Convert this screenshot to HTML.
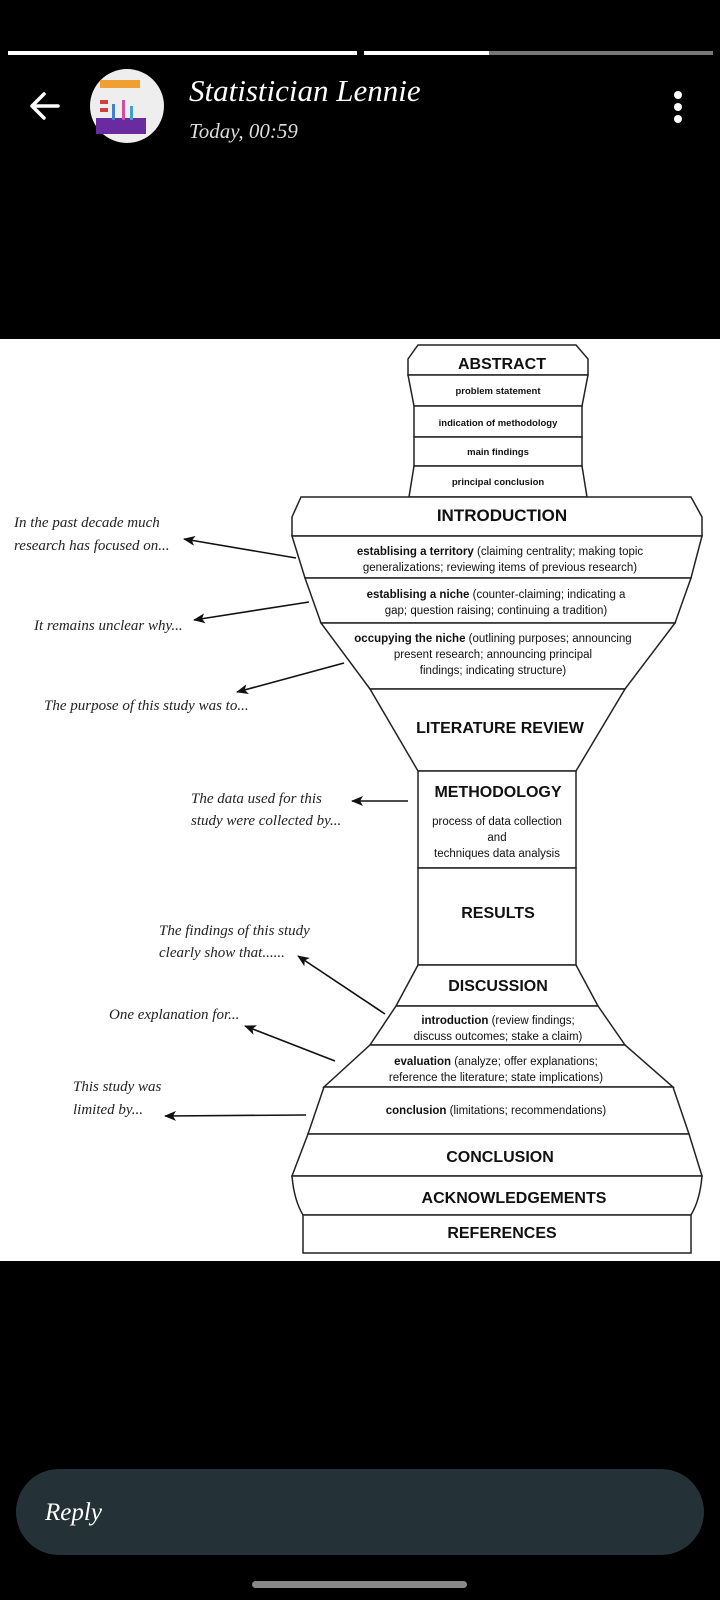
<!DOCTYPE html>
<html><head><meta charset="utf-8"><style>
html,body{margin:0;padding:0;background:#000;width:720px;height:1600px;overflow:hidden}
svg{display:block}
.h{font-family:"Liberation Sans",Arial,sans-serif;font-weight:bold;fill:#111;text-anchor:middle}
.t{font-family:"Liberation Sans",Arial,sans-serif;fill:#111;text-anchor:middle;font-size:11.5px}
.s{font-family:"Liberation Sans",Arial,sans-serif;fill:#111;text-anchor:middle;font-size:9.5px;font-weight:bold}
.i{font-family:"Liberation Serif",serif;font-style:italic;fill:#222;font-size:15px}
</style></head><body>
<svg width="720" height="1600" viewBox="0 0 720 1600" xmlns="http://www.w3.org/2000/svg">
<defs><marker id="a" markerWidth="12" markerHeight="10" refX="11" refY="5" orient="auto" markerUnits="userSpaceOnUse"><path d="M0,0 L12,5 L0,10 L3,5 Z" fill="#111"/></marker></defs>
<rect width="720" height="1600" fill="#000"/>
<!-- header -->
<rect x="8" y="51" width="349" height="4" fill="#fff"/>
<rect x="364" y="51" width="125" height="4" fill="#fff"/>
<rect x="489" y="51" width="224" height="4" fill="#777"/>
<path d="M58,106 H32 M44,94 L32,106 L44,118" stroke="#fff" stroke-width="3.5" fill="none" stroke-linecap="round" stroke-linejoin="round"/>
<circle cx="127" cy="106" r="37" fill="#eee"/>
<rect x="100" y="80" width="40" height="8" fill="#f0a030"/>
<rect x="96" y="118" width="50" height="16" fill="#6a2aa0"/>
<rect x="100" y="100" width="8" height="4" fill="#d04040"/><rect x="100" y="108" width="8" height="4" fill="#d04040"/>
<rect x="112" y="104" width="3" height="16" fill="#4080d0"/><rect x="122" y="100" width="3" height="20" fill="#d050a0"/><rect x="130" y="106" width="3" height="14" fill="#40a0d0"/>
<text x="189" y="101" fill="#fff" font-family="'Liberation Serif',serif" font-style="italic" font-size="31">Statistician Lennie</text>
<text x="189" y="138" fill="#ddd" font-family="'Liberation Serif',serif" font-style="italic" font-size="21">Today, 00:59</text>
<circle cx="678" cy="95" r="4" fill="#fff"/><circle cx="678" cy="107" r="4" fill="#fff"/><circle cx="678" cy="119" r="4" fill="#fff"/>
<!-- white panel -->
<rect x="0" y="339" width="720" height="922" fill="#fff"/>
<g stroke="#222" stroke-width="1.5" fill="#fff">
<!-- abstract -->
<path d="M418,345 H576 L588,359 V375 H408 V359 Z"/>
<path d="M408,375 H588 L582,406 H414 Z"/>
<rect x="414" y="406" width="168" height="31"/>
<rect x="414" y="437" width="168" height="29"/>
<path d="M414,466 H582 L587,497 H409 Z"/>
<!-- intro -->
<path d="M301,497 H691 L702,517 V536 H292 V517 Z"/>
<path d="M292,536 H702 L691,578 H305 Z"/>
<path d="M305,578 H691 L675,623 H321 Z"/>
<path d="M321,623 H675 L625,689 H370 Z"/>
<path d="M370,689 H625 L576,771 H418 Z"/>
<rect x="418" y="771" width="158" height="97"/>
<rect x="418" y="868" width="158" height="97"/>
<path d="M418,965 H576 L598,1006 H396 Z"/>
<path d="M396,1006 H598 L625,1045 H370 Z"/>
<path d="M370,1045 H625 L673,1087 H324 Z"/>
<path d="M324,1087 H673 L689,1134 H308 Z"/>
<path d="M308,1134 H689 L702,1176 H292 Z"/>
<path d="M292,1176 H702 Q700,1200 691,1215 H303 Q294,1200 292,1176 Z"/>
<rect x="303" y="1215" width="388" height="38"/>
</g>
<g>
<text class="h" x="502" y="369" font-size="16">ABSTRACT</text>
<text class="s" x="498" y="394">problem statement</text>
<text class="s" x="498" y="426">indication of methodology</text>
<text class="s" x="498" y="455">main findings</text>
<text class="s" x="498" y="485">principal conclusion</text>
<text class="h" x="502" y="521" font-size="17">INTRODUCTION</text>
<text class="t" x="500" y="555"><tspan font-weight="bold">establising a territory</tspan> (claiming centrality; making topic</text>
<text class="t" x="500" y="571">generalizations; reviewing items of previous research)</text>
<text class="t" x="496" y="598"><tspan font-weight="bold">establising a niche</tspan> (counter-claiming; indicating a</text>
<text class="t" x="496" y="614">gap; question raising; continuing a tradition)</text>
<text class="t" x="493" y="642"><tspan font-weight="bold">occupying the niche</tspan> (outlining purposes; announcing</text>
<text class="t" x="493" y="658">present research; announcing principal</text>
<text class="t" x="493" y="674">findings; indicating structure)</text>
<text class="h" x="500" y="733" font-size="16">LITERATURE REVIEW</text>
<text class="h" x="498" y="797" font-size="16">METHODOLOGY</text>
<text class="t" x="497" y="825">process of data collection</text>
<text class="t" x="497" y="841">and</text>
<text class="t" x="497" y="857">techniques data analysis</text>
<text class="h" x="498" y="918" font-size="16">RESULTS</text>
<text class="h" x="498" y="991" font-size="16">DISCUSSION</text>
<text class="t" x="498" y="1024"><tspan font-weight="bold">introduction</tspan> (review findings;</text>
<text class="t" x="498" y="1040">discuss outcomes; stake a claim)</text>
<text class="t" x="496" y="1065"><tspan font-weight="bold">evaluation</tspan> (analyze; offer explanations;</text>
<text class="t" x="496" y="1081">reference the literature; state implications)</text>
<text class="t" x="496" y="1114"><tspan font-weight="bold">conclusion</tspan> (limitations; recommendations)</text>
<text class="h" x="500" y="1162" font-size="16">CONCLUSION</text>
<text class="h" x="514" y="1203" font-size="16">ACKNOWLEDGEMENTS</text>
<text class="h" x="502" y="1238" font-size="16">REFERENCES</text>
</g>
<g>
<text class="i" x="14" y="527">In the past decade much</text>
<text class="i" x="14" y="550">research has focused on...</text>
<text class="i" x="34" y="630">It remains unclear why...</text>
<text class="i" x="44" y="710">The purpose of this study was to...</text>
<text class="i" x="191" y="803">The data used for this</text>
<text class="i" x="191" y="825">study were collected by...</text>
<text class="i" x="159" y="935">The findings of this study</text>
<text class="i" x="159" y="957">clearly show that......</text>
<text class="i" x="109" y="1019">One explanation for...</text>
<text class="i" x="73" y="1091">This study was</text>
<text class="i" x="73" y="1114">limited by...</text>
</g>
<g stroke="#111" stroke-width="1.6" marker-end="url(#a)">
<line x1="296" y1="558" x2="184" y2="539"/>
<line x1="309" y1="602" x2="194" y2="620"/>
<line x1="344" y1="663" x2="237" y2="692"/>
<line x1="408" y1="801" x2="352" y2="801"/>
<line x1="385" y1="1014" x2="298" y2="956"/>
<line x1="335" y1="1061" x2="245" y2="1026"/>
<line x1="306" y1="1115" x2="165" y2="1116"/>
</g>
<!-- reply -->
<rect x="16" y="1469" width="688" height="86" rx="43" fill="#243238"/>
<text x="45" y="1520" fill="#fff" font-family="'Liberation Serif',serif" font-style="italic" font-size="25">Reply</text>
<rect x="252" y="1581" width="215" height="7" rx="3.5" fill="#888"/>
</svg>
</body></html>
